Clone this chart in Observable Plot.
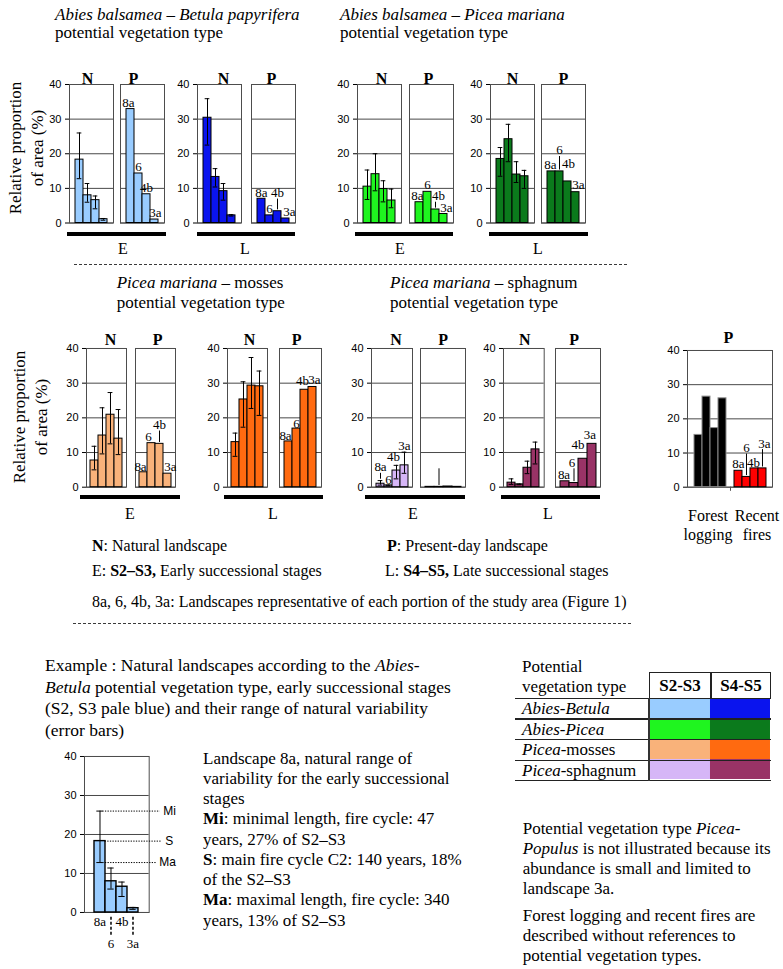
<!DOCTYPE html>
<html><head><meta charset="utf-8">
<script src="https://cdn.jsdelivr.net/npm/d3@7"></script>
<script src="https://cdn.jsdelivr.net/npm/@observablehq/plot@0.6"></script>
<style>
body{margin:0;background:#fff}
#fig{position:relative;width:783px;height:969px;overflow:hidden;color:#000}
#fig svg{overflow:visible}
</style></head><body><div id="fig"></div>
<script>
// ---------- data ----------
const landscapes = ["8a", "6", "4b", "3a"];
const yTicks = [0, 10, 20, 30, 40];
// Abies balsamea – Betula papyrifera
const abEarlyN = [18.3, 8.0, 6.6, 1.1];
const abEarlyNLow = [12.8, 6.0, 4.1, 0.8];
const abEarlyNHigh = [26.0, 11.4, 7.8, 1.3];
const abEarlyP = [32.9, 14.3, 8.3, 1.0];
const abLateN = [30.4, 13.3, 9.2, 2.2];
const abLateNLow = [22.5, 10.4, 6.6, 2.0];
const abLateNHigh = [35.9, 15.7, 11.4, 2.4];
const abLateP = [7.0, 2.2, 3.4, 1.3];
// Abies balsamea – Picea mariana
const apEarlyN = [10.5, 14.1, 9.8, 6.5];
const apEarlyNLow = [6.8, 9.3, 6.1, 4.4];
const apEarlyNHigh = [15.3, 20.0, 12.2, 9.8];
const apEarlyP = [6.0, 9.0, 3.9, 2.6];
const apLateN = [18.5, 24.2, 14.0, 13.5];
const apLateNLow = [13.5, 17.7, 11.7, 10.0];
const apLateNHigh = [21.8, 28.5, 17.7, 15.2];
const apLateP = [14.9, 14.9, 12.0, 8.9];
// Picea mariana – mosses
const pmEarlyN = [7.7, 14.9, 20.9, 14.0];
const pmEarlyNLow = [5.0, 9.6, 12.5, 9.4];
const pmEarlyNHigh = [11.8, 22.9, 27.3, 22.4];
const pmEarlyP = [4.3, 12.7, 12.5, 3.9];
const pmLateN = [13.0, 25.3, 29.3, 29.1];
const pmLateNLow = [8.9, 17.3, 22.7, 20.7];
const pmLateNHigh = [15.6, 30.4, 37.4, 33.5];
const pmLateP = [13.2, 16.9, 28.1, 28.9];
// Picea mariana – sphagnum
const psEarlyN = [1.0, 0.5, 4.8, 6.3];
const psEarlyNLow = [0.6, 0.4, 2.4, 4.0];
const psEarlyNHigh = [1.9, 0.6, 6.3, 10.1];
const psEarlyP = [0.1, 0.1, 0.2, 0.1];
const psLateN = [1.3, 0.8, 5.6, 10.9];
const psLateNLow = [0.8, 0.7, 3.9, 6.7];
const psLateNHigh = [2.4, 0.9, 7.5, 13.0];
const psLateP = [1.7, 1.2, 8.2, 12.5];
// Present-day disturbances
const loggingP = [15.3, 26.5, 17.3, 26.0];
const firesP = [4.8, 3.0, 5.5, 5.5];
// legend
const vegTypes = ["Abies-Betula", "Abies-Picea", "Picea-mosses", "Picea-sphagnum"];
const stages = ["S2-S3", "S4-S5"];
const earlyColors = ["#99ccff", "#1ff51f", "#f9b27a", "#d6b6f7"];
const lateColors = ["#0a14ee", "#0b7a1c", "#ff6a10", "#993366"];
const loggingColor = "#000000";
const fireColor = "#ff0000";

// ---------- helpers ----------
const SERIF = "'Liberation Serif','Times New Roman',Times,serif";
const SANS = "'Liberation Sans',Arial,Helvetica,sans-serif";
const fig = document.getElementById("fig");

function put(node, left, top) {
  node.style.position = "absolute";
  node.style.left = left + "px";
  node.style.top = top + "px";
  fig.appendChild(node);
  return node;
}
function txt(html, x, yc, o = {}) {
  const size = o.size || 16;
  const d = document.createElement("div");
  d.innerHTML = html;
  d.style.cssText = `font-family:${SERIF};font-size:${size}px;line-height:${size}px;white-space:nowrap;` +
    (o.center ? "transform:translateX(-50%);" : "") + (o.css || "");
  return put(d, x, yc - size / 2);
}
function box(x, y, w, h, css) {
  const d = document.createElement("div");
  d.style.cssText = `width:${w}px;height:${h}px;box-sizing:border-box;${css}`;
  return put(d, x, y);
}
function dashed(x1, x2, y) {
  box(x1, y, x2 - x1, 1, "background:repeating-linear-gradient(to right,#3a3a3a 0 3px,transparent 3px 5px)");
}
function vlabel(cx, cy) {
  const d = document.createElement("div");
  d.innerHTML = "Relative proportion<br>of area (%)";
  d.style.cssText = `font-family:${SERIF};font-size:17px;line-height:22px;text-align:center;white-space:nowrap;transform:translate(-50%,-50%) rotate(-90deg);`;
  put(d, cx, cy);
}
function mkRows(values, fill, o = {}) {
  return landscapes.map((l, i) => ({
    id: (o.prefix || "") + l, name: l, v: values[i],
    lo: o.low ? o.low[i] : null, hi: o.high ? o.high[i] : null,
    fill, stroke: o.stroke || "#000", ann: o.ann ? o.ann[i] : null
  }));
}
function barPanel(o) {
  const fw = o.right - o.left, fh = o.bottom - o.top;
  const mL = o.axis ? 36 : 2, mR = 18, mT = 32, mB = 44;
  const domain = o.domain || landscapes;
  const bw = fw / (domain.length + 2 * o.pad);
  const rows = o.rows;
  const err = rows.filter(r => r.lo != null);
  const marks = [
    Plot.ruleY(yTicks, {stroke: "#1a1a1a", strokeWidth: 0.8}),
    Plot.frame({stroke: "#4d4d4d", strokeWidth: 1}),
    Plot.barY(rows, {x: "id", y: "v", fill: "fill", stroke: "stroke", strokeWidth: o.sw || 1})
  ];
  if (err.length) {
    const cap = {stroke: "#000", strokeWidth: 1, insetLeft: bw * 0.2, insetRight: bw * 0.2};
    marks.push(
      Plot.ruleX(err, {x: "id", y1: "lo", y2: "hi", stroke: "#000", strokeWidth: 1}),
      Plot.tickY(err, {x: "id", y: "hi", ...cap}),
      Plot.tickY(err, {x: "id", y: "lo", ...cap})
    );
  }
  rows.filter(r => r.ann).forEach(r => {
    const a = r.ann;
    const base = Math.max(r.v, r.hi || 0);
    if (a.leader) marks.push(Plot.ruleX([r], {x: "id", y1: () => base + 0.4, y2: () => base + a.lift - 0.3, stroke: "#000", strokeWidth: 1}));
    if (!a.hide) marks.push(Plot.text([r], {x: "id", y: () => base + a.lift, text: "name", dx: a.dx || 0, dy: -1,
      lineAnchor: "bottom", fontFamily: SERIF, fontSize: 13, fill: "#000"}));
  });
  if (o.header) marks.push(Plot.text([o.header], {frameAnchor: "top", text: d => d, dx: o.hdx || 0, dy: o.hdy,
    fontFamily: SERIF, fontWeight: "bold", fontSize: 16, fill: "#000"}));
  if (o.extra) marks.push(...o.extra(rows, bw));
  const svg = Plot.plot({
    width: mL + fw + mR, height: mT + fh + mB,
    marginLeft: mL, marginRight: mR, marginTop: mT, marginBottom: mB,
    x: {type: "band", domain, paddingInner: 0, paddingOuter: o.pad, axis: null},
    y: {domain: [0, 40], ticks: yTicks, axis: o.axis ? "left" : null, tickSize: 4, tickPadding: 4, label: null},
    color: {type: "identity"},
    style: {fontFamily: SANS, fontSize: "11px", color: "#000", background: "transparent", overflow: "visible"},
    marks
  });
  put(svg, o.left - mL, o.top - mT);
}

// label annotations (lift above bar, in % units; leader = thin line up to the label)
const A = (lift, dx = 0, leader = false, hide = false) => ({lift, dx, leader, hide});

// ---------- top row ----------
const top1 = {top: 84, bottom: 222.5, pad: 0.65, hdy: -12};
txt("<i>Abies balsamea</i> – <i>Betula papyrifera</i>", 55, 14, {size: 17});
txt("potential vegetation type", 55, 32, {size: 17});
txt("<i>Abies balsamea</i> – <i>Picea mariana</i>", 340, 14, {size: 17});
txt("potential vegetation type", 340, 32, {size: 17});
vlabel(27, 148);

barPanel({...top1, left: 69, right: 113, axis: true, header: "N", hdx: -4,
  rows: mkRows(abEarlyN, earlyColors[0], {low: abEarlyNLow, high: abEarlyNHigh})});
barPanel({...top1, left: 120, right: 164, header: "P", hdx: -9,
  rows: mkRows(abEarlyP, earlyColors[0], {ann: [A(0.3, -2), A(0.3), A(0.3), A(0.3, 1)]})});
barPanel({...top1, left: 197, right: 241, axis: true, header: "N", hdx: 4,
  rows: mkRows(abLateN, lateColors[0], {low: abLateNLow, high: abLateNHigh})});
barPanel({...top1, left: 251, right: 295, header: "P", hdx: -2,
  rows: mkRows(abLateP, lateColors[0], {ann: [A(0.3), A(0.3), A(3.8, 0, true), A(0.3, 4)]})});
barPanel({...top1, left: 357, right: 401, axis: true, header: "N", hdx: 2,
  rows: mkRows(apEarlyN, earlyColors[1], {low: apEarlyNLow, high: apEarlyNHigh})});
barPanel({...top1, left: 409, right: 453, header: "P", hdx: -3,
  rows: mkRows(apEarlyP, earlyColors[1], {ann: [A(0.3, -2), A(0.5), A(2.4, 3, true), A(0.3, 3)]})});
barPanel({...top1, left: 490, right: 534, axis: true, header: "N",
  rows: mkRows(apLateN, lateColors[1], {low: apLateNLow, high: apLateNHigh})});
barPanel({...top1, left: 541, right: 585, header: "P",
  rows: mkRows(apLateP, lateColors[1], {ann: [A(0.5, -1), A(4.6, 0, true), A(3.5, 1), A(0.5, 3)]})});

[[66.7, 165.7, "E", 123], [196.7, 295, "L", 245], [355, 453.3, "E", 400], [489, 588, "L", 538]].forEach(([a, b, t, x]) => {
  box(a, 231.5, b - a, 4, "background:#000");
  txt(t, x, 249, {size: 16, center: true});
});
dashed(74, 628, 264);

// ---------- middle row ----------
const mid = {top: 348.3, bottom: 487, pad: 0.5, hdy: -15};
txt("<i>Picea mariana</i> – mosses", 116.7, 282, {size: 17});
txt("potential vegetation type", 116.7, 302, {size: 17});
txt("<i>Picea mariana</i> – sphagnum", 390, 282, {size: 17});
txt("potential vegetation type", 390, 302, {size: 17});
vlabel(30.5, 416.5);

barPanel({...mid, left: 86, right: 126, axis: true, header: "N", hdx: 4,
  rows: mkRows(pmEarlyN, earlyColors[2], {low: pmEarlyNLow, high: pmEarlyNHigh})});
barPanel({...mid, left: 135, right: 175, header: "P", hdx: 2,
  rows: mkRows(pmEarlyP, earlyColors[2], {ann: [A(0.2, -3), A(0.4, -3), A(4, 0, true), A(0.6, 3)]})});
barPanel({...mid, left: 226.7, right: 266.7, axis: true, header: "N", hdx: 2,
  rows: mkRows(pmLateN, lateColors[2], {low: pmLateNLow, high: pmLateNHigh})});
barPanel({...mid, left: 279, right: 321, header: "P", hdx: -4,
  rows: mkRows(pmLateP, lateColors[2], {ann: [A(0, -3), A(0), A(1, -2), A(0.6, 2)]})});
barPanel({...mid, left: 370.7, right: 411.7, axis: true, header: "N", hdx: 4,
  rows: mkRows(psEarlyN, earlyColors[3], {low: psEarlyNLow, high: psEarlyNHigh,
    ann: [A(2.4, 0, true), A(0), A(0.9, -3), A(0.2)]})});
barPanel({...mid, left: 420, right: 465, header: "P",
  rows: mkRows(psEarlyP, earlyColors[3], {ann: [null, A(5.5, 0, true, true), null, null]})});
barPanel({...mid, left: 503.3, right: 544, axis: true, header: "N", hdx: 1,
  rows: mkRows(psLateN, lateColors[3], {low: psLateNLow, high: psLateNHigh})});
barPanel({...mid, left: 555, right: 600, header: "P", hdx: -4,
  rows: mkRows(psLateP, lateColors[3], {ann: [A(0.5, -1), A(4.4, -2, true), A(2.4, -5), A(1.2, -2)]})});

// present-day disturbances
const logRows = mkRows(loggingP, loggingColor, {prefix: "logging ", stroke: "#8a8a8a"});
const fireRows = mkRows(firesP, fireColor, {prefix: "fires ", ann: [A(0.4), A(7, 0, true), A(0, -1), A(5.8, 2, true)]});
barPanel({left: 686.7, right: 771.7, top: 350, bottom: 486.7, pad: 0.55, axis: true, header: "P", hdy: -19, hdx: -1.5,
  domain: [...logRows.map(r => r.id), " ", ...fireRows.map(r => r.id)],
  rows: [...logRows, ...fireRows],
  extra: () => [Plot.ruleX([" "], {x: d => d, y1: () => 0, y2: () => -1.2, stroke: "#4d4d4d"})]});
txt("Forest", 708, 516, {center: true});
txt("logging", 708, 535, {center: true});
txt("Recent", 757, 516, {center: true});
txt("fires", 757, 535, {center: true});

[[80, 180, "E", 130], [224, 323.3, "L", 273], [365, 465, "E", 413], [500.7, 600, "L", 548]].forEach(([a, b, t, x]) => {
  box(a, 495, b - a, 4, "background:#000");
  txt(t, x, 514, {size: 16, center: true});
});

// legend lines
txt("<b>N</b>: Natural landscape", 92, 546);
txt("<b>P</b>: Present-day landscape", 387, 546);
txt("E: <b>S2–S3,</b> Early successional stages", 92, 571);
txt("L: <b>S4–S5,</b> Late successional stages", 385, 571);
txt("8a, 6, 4b, 3a: Landscapes representative of each portion of the study area (Figure 1)", 92, 602);
dashed(73, 631, 623);

// ---------- example ----------
const exLines = [
  "Example : Natural landscapes according to the <i>Abies-</i>",
  "<i>Betula</i> potential vegetation type, early successional stages",
  "(S2, S3 pale blue) and their range of natural variability",
  "(error bars)"
];
exLines.forEach((l, i) => txt(l, 45, 666 + i * 21.5, {size: 17.5}));

barPanel({left: 84.3, right: 149, top: 756, bottom: 912, pad: 0.77, axis: true, sw: 1.4,
  rows: mkRows(abEarlyN, earlyColors[0], {low: abEarlyNLow, high: abEarlyNHigh}),
  extra: (rows, bw) => {
    const r = rows[0], off = 0.77 * bw;
    const dot = {stroke: "#000", strokeWidth: 1, strokeDasharray: "1.3,1.3"};
    const lab = {frameAnchor: "right", textAnchor: "start", fontFamily: SANS, fontSize: 12, fill: "#000"};
    return [
      Plot.ruleY([r.hi], {y: d => d, insetLeft: off + 0.8 * bw, insetRight: -11, ...dot}),
      Plot.ruleY([r.v], {y: d => d, insetLeft: off + bw, insetRight: -12.5, ...dot}),
      Plot.ruleY([r.lo], {y: d => d, insetLeft: off + 0.8 * bw, insetRight: -8, ...dot}),
      Plot.text(["Mi"], {y: () => r.hi, text: d => d, dx: 14, ...lab}),
      Plot.text(["S"], {y: () => r.v, text: d => d, dx: 16, ...lab}),
      Plot.text(["Ma"], {y: () => r.lo, text: d => d, dx: 10, ...lab}),
      Plot.text([rows[0], rows[2]], {x: "id", y: () => 0, text: "name", dy: 9, fontFamily: SERIF, fontSize: 13, fill: "#000"}),
      Plot.ruleX([rows[1], rows[3]], {x: "id", y1: () => -1.2, y2: () => -6.3, stroke: "#000", strokeWidth: 1.5, strokeDasharray: "3,2"}),
      Plot.text([rows[1], rows[3]], {x: "id", y: () => 0, text: "name", dy: 31, fontFamily: SERIF, fontSize: 13, fill: "#000"})
    ];
  }});

const exText = [
  "Landscape 8a, natural range of",
  "variability for the early successional",
  "stages",
  "<b>Mi</b>: minimal length, fire cycle: 47",
  "years, 27% of S2–S3",
  "<b>S</b>: main fire cycle C2: 140 years, 18%",
  "of the S2–S3",
  "<b>Ma</b>: maximal length, fire cycle: 340",
  "years, 13% of S2–S3"
];
exText.forEach((l, i) => txt(l, 203, 758 + i * 20.25, {size: 17}));

// ---------- colour table ----------
txt("Potential", 522, 666, {size: 17});
txt("vegetation type", 522, 686, {size: 17});
box(649, 672.3, 62, 26.5, "border:1.3px solid #222;");
box(710.7, 672.3, 60.5, 26.5, "border:1.3px solid #222;");
txt("<b>S2-S3</b>", 680, 685.5, {size: 17, center: true});
txt("<b>S4-S5</b>", 741, 685.5, {size: 17, center: true});
const tTop = 698.3, rowH = 20.6;
const cellData = vegTypes.flatMap((t, i) => stages.map((s, j) => ({t, s, c: j ? lateColors[i] : earlyColors[i]})));
const cells = Plot.plot({
  width: 121.7, height: rowH * vegTypes.length, margin: 0,
  x: {type: "band", domain: stages, padding: 0, axis: null},
  y: {type: "band", domain: vegTypes, padding: 0, axis: null},
  color: {type: "identity"},
  style: {background: "transparent"},
  marks: [Plot.cell(cellData, {x: "s", y: "t", fill: "c"})]
});
put(cells, 649, tTop);
const vegHtml = {"Abies-Betula": "<i>Abies-Betula</i>", "Abies-Picea": "<i>Abies-Picea</i>",
  "Picea-mosses": "<i>Picea</i>-mosses", "Picea-sphagnum": "<i>Picea</i>-sphagnum"};
vegTypes.forEach((t, i) => txt(vegHtml[t], 522, tTop + rowH * (i + 0.5), {size: 17}));
for (let k = 0; k <= vegTypes.length; k++) box(515, tTop + k * rowH - 0.6, 256, 1.3, "background:#222");
box(648.4, tTop, 1.3, rowH * vegTypes.length, "background:#333");

const noteLines = [
  [828, "Potential vegetation type <i>Picea-</i>"],
  [848, "<i>Populus</i> is not illustrated because its"],
  [868, "abundance is small and limited to"],
  [888, "landscape 3a."],
  [915, "Forest logging and recent fires are"],
  [935, "described without references to"],
  [955, "potential vegetation types."]
];
noteLines.forEach(([y, l]) => txt(l, 522.7, y, {size: 17}));
</script></body></html>
